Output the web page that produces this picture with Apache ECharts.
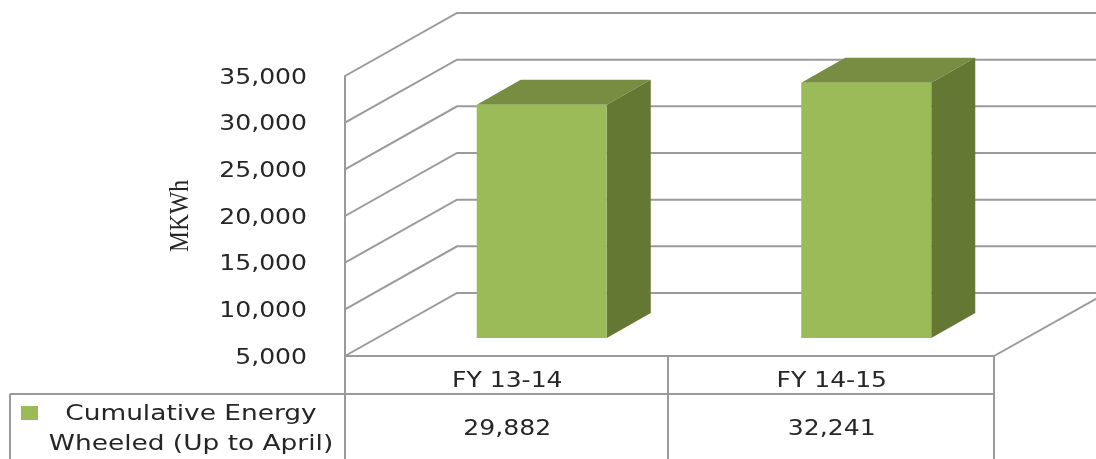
<!DOCTYPE html>
<html>
<head>
<meta charset="utf-8">
<script src="https://cdn.jsdelivr.net/npm/echarts@6/dist/echarts.min.js"></script>
<style>
  html, body { margin: 0; background: #fff; }
  #chart { width: 1096px; height: 459px; }
</style>
</head>
<body>
<div id="chart"></div>
<script>
const categories = ['FY 13-14', 'FY 14-15'];
const energyValues = [29882, 32241];
const yTicks = [5000, 10000, 15000, 20000, 25000, 30000, 35000];
const seriesName = ['Cumulative Energy', 'Wheeled (Up to April)'];
const yAxisName = 'MKWh';

const GRID = '#9a9a9a';
const TEXT = '#262626';
const FONT = '22px "DejaVu Sans"';
// the reference text is stretched sideways
const STRETCH = 1.14;

// depth of the fake 3D box, in px
const WALL_DX = 112;
const WALL_DY = -63;

const myChart = echarts.init(document.getElementById('chart'));

function fmt(v) {
  return v.toLocaleString('en-US');
}

function stretchedText(text, x, y, align) {
  return {
    type: 'text',
    x: x,
    y: y,
    scaleX: STRETCH,
    style: { text: text, font: FONT, fill: TEXT, align: align, verticalAlign: 'middle' }
  };
}

// slanted side wall + back wall line for each y tick, plus the tick label
function renderWall(params, api) {
  const v = api.value(0);
  const p = api.coord([0, v]);
  const x0 = params.coordSys.x;
  return {
    type: 'group',
    children: [
      {
        type: 'polyline',
        shape: { points: [[x0, p[1]], [x0 + WALL_DX, p[1] + WALL_DY], [1110, p[1] + WALL_DY]] },
        style: { stroke: GRID, lineWidth: 2, fill: null }
      },
      stretchedText(fmt(v), x0 - 38, p[1] + 2, 'right')
    ]
  };
}

// fake 3D column: front, top and side faces
function renderBar(params, api) {
  const center = api.coord([api.value(0), api.value(1)]);
  const base = api.coord([api.value(0), 5000]);
  const w = 130, dx = 44, dy = -25;
  const l = center[0] + 34.5 - w / 2;
  const r = l + w;
  const top = center[1] - 19;
  const bottom = base[1] - 18;
  return {
    type: 'group',
    children: [
      { type: 'polygon', shape: { points: [[l, top], [r, top], [r + dx, top + dy], [l + dx, top + dy]] }, style: { fill: '#778E42' } },
      { type: 'polygon', shape: { points: [[r, top], [r + dx, top + dy], [r + dx, bottom + dy], [r, bottom]] }, style: { fill: '#647733' } },
      { type: 'rect', shape: { x: l, y: top, width: w, height: bottom - top }, style: { fill: '#9BBB59' } }
    ]
  };
}

// category and value rows of the data table
function renderTableRows(params, api) {
  const p = api.coord([api.value(0), 5000]);
  return {
    type: 'group',
    children: [
      stretchedText(categories[api.value(0)], p[0], p[1] + 25, 'center'),
      stretchedText(fmt(api.value(1)), p[0], p[1] + 73, 'center')
    ]
  };
}

function tableLine(x1, y1, x2, y2) {
  return {
    type: 'line',
    shape: { x1: x1, y1: y1, x2: x2, y2: y2 },
    style: { stroke: GRID, lineWidth: 2 },
    silent: true
  };
}

const barData = categories.map((c, i) => [i, energyValues[i]]);

const option = {
  animation: false,
  backgroundColor: '#fff',
  grid: { left: 345, right: 102, top: 76, bottom: 103 },
  xAxis: {
    type: 'category',
    data: categories,
    axisLine: { show: true, lineStyle: { color: GRID, width: 2 } },
    axisTick: { show: false },
    axisLabel: { show: false }
  },
  yAxis: {
    type: 'value',
    min: 5000,
    max: 35000,
    interval: 5000,
    axisLine: { show: true, lineStyle: { color: GRID, width: 2 } },
    axisTick: { show: false },
    splitLine: { show: false },
    axisLabel: { show: false }
  },
  series: [
    {
      type: 'custom',
      renderItem: renderWall,
      data: yTicks.map(v => [v]),
      encode: { y: 0 },
      clip: false,
      silent: true,
      z: 1
    },
    {
      type: 'custom',
      name: seriesName.join(' '),
      renderItem: renderBar,
      data: barData,
      encode: { x: 0, y: 1 },
      clip: false,
      z: 2
    },
    {
      type: 'custom',
      renderItem: renderTableRows,
      data: barData,
      encode: { x: 0, y: 1 },
      clip: false,
      silent: true,
      z: 3
    }
  ],
  graphic: [
    // floor edge running off to the right
    tableLine(994, 356, 1110, 291),
    // data table borders
    tableLine(10, 394, 994, 394),
    tableLine(10, 394, 10, 459),
    tableLine(345, 356, 345, 459),
    tableLine(668, 356, 668, 459),
    tableLine(994, 356, 994, 459),
    // legend key and label inside the table
    { type: 'rect', shape: { x: 21, y: 406, width: 17, height: 14 }, style: { fill: '#9BBB59' } },
    {
      type: 'text',
      x: 191,
      y: 429,
      scaleX: 1.2,
      style: {
        text: seriesName.join('\n'),
        font: FONT,
        lineHeight: 30,
        fill: TEXT,
        align: 'center',
        verticalAlign: 'middle'
      }
    },
    // axis title
    {
      type: 'text',
      x: 181,
      y: 216,
      rotation: Math.PI / 2,
      scaleY: 1.2,
      style: {
        text: yAxisName,
        font: '23.5px "Liberation Serif"',
        fill: TEXT,
        align: 'center',
        verticalAlign: 'middle'
      }
    }
  ]
};

myChart.setOption(option);
</script>
</body>
</html>
